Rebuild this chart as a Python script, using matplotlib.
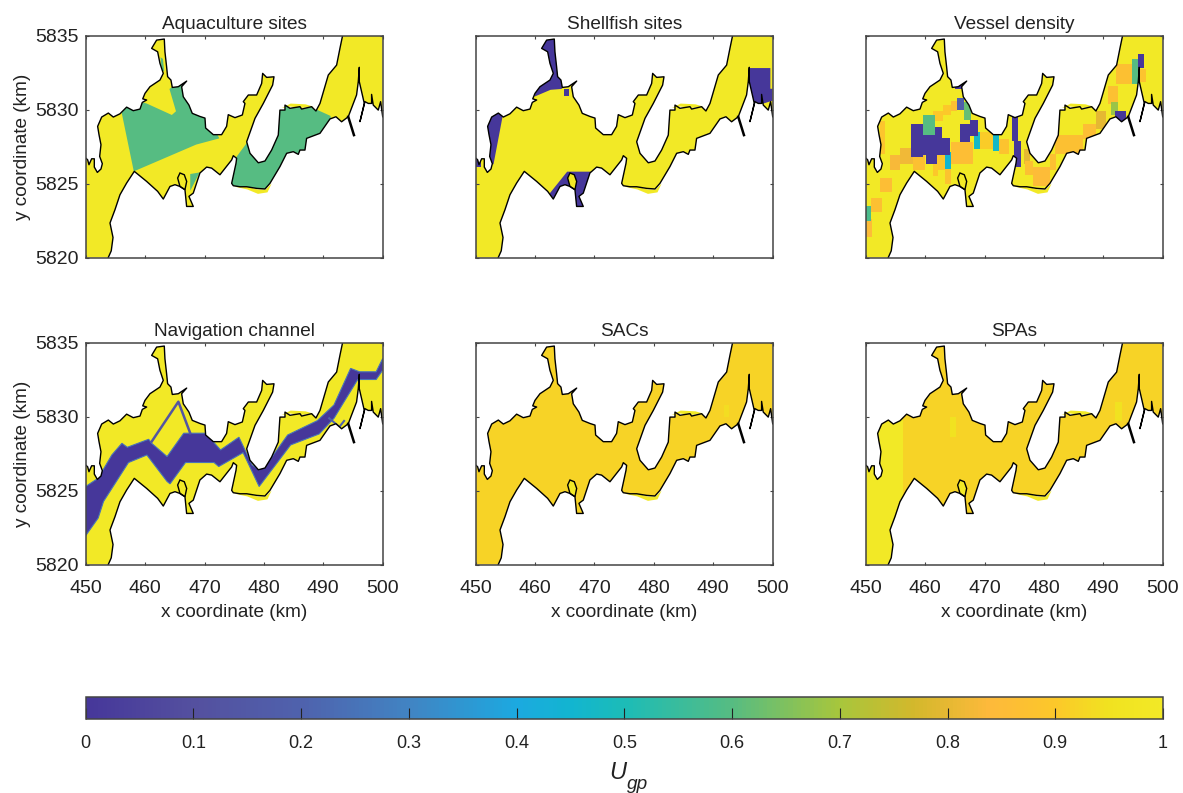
import numpy as np
import matplotlib
matplotlib.use('Agg')
import matplotlib.pyplot as plt
from matplotlib.colors import LinearSegmentedColormap
from matplotlib.patches import Polygon, Rectangle
from matplotlib.cm import ScalarMappable

plt.rcParams['font.family'] = ['Liberation Sans', 'DejaVu Sans']

titles = ['Aquaculture sites', 'Shellfish sites', 'Vessel density',
          'Navigation channel', 'SACs', 'SPAs']
cbar_ticks = [0, 0.1, 0.2, 0.3, 0.4, 0.5, 0.6, 0.7, 0.8, 0.9, 1]
cbar_labels = ['0', '0.1', '0.2', '0.3', '0.4', '0.5', '0.6', '0.7', '0.8', '0.9', '1']

# colour scale
cmap_u = [0, 0.1, 0.2, 0.3, 0.4, 0.45, 0.5, 0.6, 0.7, 0.77, 0.84, 0.9, 0.95, 1]
cmap_c = ['#46379a', '#54509f', '#4f62ad', '#4184c3', '#1ca9e0', '#12b5d0', '#1cbcb7',
          '#56bc82', '#a7c63c', '#d3b82c', '#fdb93b', '#fcc72a', '#f1e220', '#f2e926']

# coastline (km), left edge round to the top edge
north_x = [450.0, 450.33, 450.55, 451.0, 451.45, 451.45, 451.96, 452.57, 452.8, 452.35, 452.57, 452.24, 452.01,
           452.69, 453.81, 454.65, 455.77, 456.89, 458.01, 459.14, 459.53, 460.26, 459.6, 459.98, 460.82, 462.5,
           463.06, 462.5, 462.11, 461.1, 461.94, 463.23, 463.34, 463.62, 463.79, 464.35, 464.58, 465.59, 467.0,
           466.15, 466.43, 467.38, 467.94, 469.23, 470.08, 470.19, 471.48, 472.88, 473.72, 474.0, 475.13, 476.37,
           476.81, 476.53, 477.38, 478.78, 479.62, 479.79, 480.46, 481.7, 481.47, 479.9, 478.5, 477.1, 477.66,
           479.06, 480.18, 481.3, 482.42, 482.7, 483.55, 483.55, 484.39, 486.07, 486.35, 488.03, 488.76, 489.44,
           490.84, 492.24, 492.8, 493.25]
north_y = [5826.72, 5826.6, 5826.27, 5826.67, 5826.67, 5826.11, 5825.75, 5825.98, 5826.34, 5826.83, 5827.62,
           5828.3, 5828.86, 5829.49, 5829.76, 5829.49, 5829.71, 5830.16, 5829.92, 5830.03, 5830.48, 5830.64,
           5830.72, 5831.09, 5831.54, 5831.99, 5832.44, 5833.12, 5833.9, 5834.13, 5834.69, 5834.76, 5833.9,
           5832.89, 5832.22, 5831.99, 5831.49, 5831.54, 5831.92, 5831.54, 5830.86, 5830.3, 5829.74, 5829.53,
           5829.42, 5828.75, 5828.3, 5828.3, 5828.86, 5829.65, 5829.45, 5829.63, 5830.41, 5830.53, 5830.98,
           5830.98, 5831.76, 5832.44, 5832.17, 5832.21, 5831.65, 5830.41, 5829.4, 5827.82, 5827.04, 5826.4,
           5826.52, 5827.26, 5828.27, 5829.96, 5829.96, 5830.3, 5830.08, 5830.19, 5830.03, 5830.19, 5829.9,
           5830.41, 5832.33, 5833.0, 5834.13, 5835.0]
# right edge round to the bottom edge
south_x = [500.0, 499.65, 499.25, 498.41, 498.13, 498.13, 497.57, 497.01, 496.17, 496.9, 496.45, 496.06, 496.06,
           495.89, 495.6, 494.2, 493.08, 492.13, 491.12, 489.44, 487.19, 486.91, 486.07, 485.79, 484.95, 483.83,
           482.7, 481.02, 480.18, 478.78, 477.1, 475.97, 474.85, 474.57, 475.3, 475.41, 474.85, 474.57, 473.72,
           472.6, 471.2, 470.36, 469.23, 468.11, 467.38, 468.11, 466.99, 466.71, 465.87, 465.03, 464.19, 463.06,
           462.11, 460.26, 458.18, 456.89, 455.77, 454.93, 454.09, 454.6, 454.3, 453.8]
south_y = [5829.51, 5830.53, 5829.96, 5830.3, 5831.02, 5830.41, 5830.41, 5830.53, 5829.18, 5830.41, 5831.2,
           5831.88, 5832.85, 5831.88, 5830.98, 5829.51, 5829.17, 5829.51, 5829.36, 5828.39, 5828.05, 5827.26,
           5827.26, 5826.97, 5827.15, 5827.04, 5826.14, 5825.01, 5824.63, 5824.67, 5824.78, 5824.78, 5824.85,
           5825.01, 5826.36, 5826.7, 5826.88, 5826.59, 5826.16, 5825.59, 5826.04, 5826.11, 5825.71, 5824.35,
           5824.13, 5823.45, 5823.45, 5824.58, 5824.8, 5824.92, 5824.8, 5823.95, 5824.47, 5825.14, 5825.82,
           5825.03, 5824.24, 5823.23, 5822.33, 5821.35, 5820.45, 5820.0]
coast_x = north_x + [500.0] + south_x + [450.0]
coast_y = north_y + [5835.0] + south_y + [5820.0]

spur_x = [494.2, 495.16]
spur_y = [5829.51, 5828.27]
inlet_x = [466.71, 467.0, 466.6, 465.87, 465.48, 465.87]
inlet_y = [5824.58, 5825.14, 5825.59, 5825.71, 5825.37, 5824.8]

# grid cells spilling just past the coastline
fringe_a_x = [474.9, 477.2, 478.9, 480.3, 481.3, 480.6, 479.0, 477.2]
fringe_a_y = [5824.8, 5824.8, 5824.6, 5824.6, 5825.0, 5824.4, 5824.3, 5824.6]
fringe_b_x = [483.0, 484.5, 486.2, 488.3, 487.0, 484.5]
fringe_b_y = [5830.1, 5830.2, 5830.1, 5830.2, 5830.35, 5830.4]

# Aquaculture sites, u = 0.6
aqua_u = 0.6
aqua_west_x = [456.1, 456.1, 460.4, 464.5, 465.2, 464.1, 467.0, 472.5, 468.6, 458.1]
aqua_west_y = [5829.7, 5831.0, 5830.38, 5829.63, 5829.88, 5831.39, 5832.2, 5828.05, 5827.63, 5825.82]
aqua_east_x = [476.9, 474.9, 474.4, 482.3, 491.8, 491.2, 489.0, 488.5, 482.3]
aqua_east_y = [5827.62, 5826.54, 5824.3, 5824.3, 5828.35, 5829.57, 5829.97, 5830.7, 5830.7]
aqua_south_x = [467.6, 469.2, 467.6]
aqua_south_y = [5825.64, 5825.75, 5824.51]
aqua_north_x = [462.6, 463.0, 463.2, 462.8]
aqua_north_y = [5833.53, 5833.42, 5832.6, 5832.6]

# Shellfish sites, u = 0
shell_north_x = [459.9, 462.6, 464.5, 464.6, 464.0, 460.6, 460.6]
shell_north_y = [5830.87, 5831.33, 5831.39, 5831.84, 5834.9, 5834.9, 5832.0]
shell_west_x = [454.7, 453.0, 451.9, 451.6]
shell_west_y = [5829.9, 5826.3, 5826.3, 5829.9]
shell_left_x = [450.0, 450.9, 450.9, 450.0]
shell_left_y = [5826.1, 5826.1, 5826.8, 5826.8]
shell_south_x = [462.4, 465.4, 469.4, 468.5, 466.8, 463.1]
shell_south_y = [5824.3, 5825.8, 5825.8, 5823.4, 5823.4, 5824.0]
shell_east_x = [496.0, 499.6, 499.6, 500.0, 500.0, 499.2, 498.4, 496.9, 496.1]
shell_east_y = [5832.8, 5832.8, 5831.4, 5831.4, 5830.6, 5830.5, 5830.4, 5829.3, 5831.8]
shell_spot_x = [464.8, 465.7, 465.7, 464.8]
shell_spot_y = [5830.94, 5830.94, 5831.39, 5831.39]

# Vessel density grid blocks: x0, x1, y0, y1
vessel_x0 = [450.0, 450.0, 450.9, 452.4, 454.1, 455.8, 452.4, 458.0, 461.4, 463.0, 464.3, 464.4, 463.3, 462.0, 461.4,
             472.4, 476.6, 476.8, 478.2, 481.0, 481.8, 486.6, 488.8, 490.8, 492.2, 496.1, 469.3,
             459.7, 466.5, 491.3, 494.8,
             468.2, 463.3, 471.4,
             465.3,
             457.7, 459.7, 459.7, 461.6, 460.2, 465.0, 465.8, 467.5, 474.6, 475.0, 491.9, 495.8]
vessel_x1 = [451.0, 450.9, 452.8, 454.4, 455.8, 458.0, 453.2, 460.0, 463.0, 464.3, 465.3, 468.1, 464.4, 463.3, 462.2,
             474.2, 477.7, 478.2, 481.0, 482.0, 486.6, 488.8, 490.5, 492.4, 495.0, 497.2, 471.4,
             461.6, 467.8, 492.4, 495.8,
             469.3, 464.3, 472.4,
             466.6,
             459.7, 464.2, 462.8, 462.8, 462.0, 467.0, 467.5, 468.9, 475.7, 476.2, 493.8, 496.9]
vessel_y0 = [5821.4, 5822.5, 5823.05, 5824.4, 5825.9, 5826.3, 5827.0, 5825.9, 5829.2, 5829.6, 5829.9, 5826.3, 5825.0, 5825.9, 5825.5,
             5827.0, 5826.3, 5825.6, 5824.85, 5825.9, 5827.0, 5828.0, 5828.7, 5830.4, 5831.7, 5831.85, 5827.3,
             5828.3, 5829.3, 5829.6, 5831.7,
             5827.3, 5826.0, 5827.2,
             5830.0,
             5826.8, 5826.9, 5828.1, 5828.3, 5826.3, 5831.4, 5827.8, 5828.2, 5827.9, 5826.1, 5829.1, 5832.8]
vessel_y1 = [5822.6, 5823.5, 5824.05, 5825.4, 5826.9, 5827.4, 5829.25, 5827.0, 5829.9, 5830.3, 5830.6, 5827.8, 5826.0, 5826.9, 5826.3,
             5828.0, 5827.3, 5826.5, 5826.1, 5827.0, 5828.25, 5829.05, 5829.9, 5831.6, 5833.1, 5832.75, 5828.5,
             5829.6, 5830.5, 5830.5, 5833.4,
             5828.45, 5827.1, 5828.35,
             5830.8,
             5829.0, 5828.1, 5828.3, 5828.8, 5826.9, 5831.9, 5829.0, 5829.3, 5829.5, 5827.9, 5829.9, 5833.75]
vessel_u = [0.85, 0.58, 0.87, 0.86, 0.83, 0.82, 0.89, 0.87, 0.9, 0.9, 0.87, 0.86, 0.88, 0.89, 0.9,
            0.88, 0.8, 0.87, 0.85, 0.87, 0.87, 0.86, 0.8, 0.87, 0.87, 0.88, 0.91,
            0.6, 0.62, 0.68, 0.6,
            0.47, 0.45, 0.47,
            0.18,
            0, 0, 0, 0, 0, 0, 0, 0, 0, 0, 0, 0]

# Navigation channel, u = 0
chan_top_x = [450.0, 452.1, 454.4, 456.1, 457.0, 460.6, 461.1, 463.7, 466.5, 470.2, 472.7, 475.8, 478.0, 479.2,
              480.6, 484.0, 489.0, 491.8, 494.6, 496.1, 498.9, 500.0]
chan_top_y = [5825.27, 5825.83, 5827.4, 5828.19, 5827.92, 5828.46, 5828.19, 5827.29, 5828.87, 5828.87, 5827.74,
              5828.6, 5826.73, 5826.39, 5826.84, 5828.75, 5829.72, 5830.78, 5833.25, 5833.02, 5833.02, 5833.92]
chan_bot_x = [500.0, 498.9, 495.8, 493.5, 491.8, 489.3, 484.5, 479.2, 476.5, 472.4, 471.6, 466.8, 464.2, 463.7,
              460.3, 457.2, 453.0, 452.1, 450.0]
chan_bot_y = [5833.13, 5832.5, 5832.5, 5831.0, 5829.88, 5828.82, 5828.08, 5825.27, 5827.56, 5826.62, 5826.89,
              5826.89, 5825.45, 5825.61, 5827.4, 5826.89, 5824.26, 5823.14, 5821.95]
branch_x = [461.1, 465.6, 467.6]
branch_y = [5828.3, 5831.0, 5828.87]
branch2_x = [491.0, 492.7, 493.5]
branch2_y = [5829.88, 5829.3, 5829.7]

# SACs and SPAs
sac_base = 0.92
sac_patch_x0, sac_patch_x1, sac_patch_y0, sac_patch_y1 = 491.8, 492.6, 5830.0, 5830.8
spa_west_edge = 456.2
spa_patch_x0 = [464.2, 492.0]
spa_patch_x1 = [465.2, 493.2]
spa_patch_y0 = [5828.6, 5829.7]
spa_patch_y1 = [5830.0, 5831.0]

cm = LinearSegmentedColormap.from_list('u_gp', list(zip(cmap_u, cmap_c)), N=256)


def poly(ax, xs, ys, u, clip):
    p = Polygon(np.column_stack([xs, ys]), closed=True, facecolor=cm(u), edgecolor='none', zorder=2)
    ax.add_patch(p)
    p.set_clip_path(clip)
    return p


def rect(ax, x0, x1, y0, y1, u, clip):
    r = Rectangle((x0, y0), x1 - x0, y1 - y0, facecolor=cm(u), edgecolor='none', zorder=2)
    ax.add_patch(r)
    r.set_clip_path(clip)


fig = plt.figure(figsize=(11.83, 7.93), dpi=100)
W, H = 1183.0, 793.0
lefts = [85.7, 475.7, 865.7]
tops = [35.5, 342.5]
pw, ph = 297.0, 222.0
edge = '#444444'

axes = []
for r in range(2):
    for c in range(3):
        ax = fig.add_axes([lefts[c] / W, 1 - (tops[r] + ph) / H, pw / W, ph / H])
        axes.append(ax)

for i, ax in enumerate(axes):
    base = 1.0
    if i == 4 or i == 5:
        base = sac_base
    ax.add_patch(Polygon(np.column_stack([fringe_a_x, fringe_a_y]), facecolor=cm(1.0), edgecolor='none', zorder=1))
    ax.add_patch(Polygon(np.column_stack([fringe_b_x, fringe_b_y]), facecolor=cm(1.0), edgecolor='none', zorder=1))
    land = Polygon(np.column_stack([coast_x, coast_y]), closed=True, facecolor=cm(base), edgecolor='none', zorder=1.5)
    ax.add_patch(land)

    if i == 0:
        poly(ax, aqua_west_x, aqua_west_y, aqua_u, land)
        poly(ax, aqua_east_x, aqua_east_y, aqua_u, land)
        poly(ax, aqua_south_x, aqua_south_y, aqua_u, land)
        poly(ax, aqua_north_x, aqua_north_y, aqua_u, land)
    elif i == 1:
        poly(ax, shell_north_x, shell_north_y, 0, land)
        poly(ax, shell_west_x, shell_west_y, 0, land)
        poly(ax, shell_left_x, shell_left_y, 0, land)
        poly(ax, shell_south_x, shell_south_y, 0, land)
        poly(ax, shell_east_x, shell_east_y, 0, land)
        poly(ax, shell_spot_x, shell_spot_y, 0, land)
    elif i == 2:
        for k in range(len(vessel_u)):
            rect(ax, vessel_x0[k], vessel_x1[k], vessel_y0[k], vessel_y1[k], vessel_u[k], land)
    elif i == 3:
        p = poly(ax, chan_top_x + chan_bot_x, chan_top_y + chan_bot_y, 0, land)
        p.set_edgecolor(cm(0.25))
        p.set_linewidth(0.8)
        l1, = ax.plot(branch_x, branch_y, color=cm(0.13), lw=1.8, zorder=2)
        l1.set_clip_path(land)
        l2, = ax.plot(branch2_x, branch2_y, color=cm(0.2), lw=1.5, zorder=2)
        l2.set_clip_path(land)
    elif i == 4:
        rect(ax, sac_patch_x0, sac_patch_x1, sac_patch_y0, sac_patch_y1, 0.94, land)
    elif i == 5:
        rect(ax, 450, spa_west_edge, 5820, 5835, 1.0, land)
        for k in range(len(spa_patch_x0)):
            rect(ax, spa_patch_x0[k], spa_patch_x1[k], spa_patch_y0[k], spa_patch_y1[k], 0.95, land)

    # small inlet stays pale in every panel
    ax.add_patch(Polygon(np.column_stack([inlet_x, inlet_y]), facecolor=cm(1.0), edgecolor='k', lw=1.0, zorder=3))

    # coastline on top
    ax.plot(north_x, north_y, color='k', lw=1.0, zorder=4)
    ax.plot(south_x, south_y, color='k', lw=1.0, zorder=4)
    ax.plot(spur_x, spur_y, color='k', lw=1.8, zorder=4)

    ax.set_xlim(450, 500)
    ax.set_ylim(5820, 5835)
    ax.set_xticks([450, 460, 470, 480, 490, 500])
    ax.set_yticks([5820, 5825, 5830, 5835])
    ax.ticklabel_format(useOffset=False, style='plain')
    ax.tick_params(direction='in', top=True, right=True, length=2.5, width=0.8, labelsize=14, color=edge)
    ax.tick_params(axis='x', pad=11, labelcolor='#222222')
    ax.tick_params(axis='y', pad=5, labelcolor='#222222')
    if i < 3:
        ax.tick_params(labelbottom=False)
    else:
        ax.set_xlabel('x coordinate (km)', fontsize=13.7, labelpad=5.5, color='#222222')
    if i % 3 != 0:
        ax.tick_params(labelleft=False)
    else:
        ax.set_ylabel('y coordinate (km)', fontsize=13.7, labelpad=3, color='#222222')
    for s in ax.spines.values():
        s.set_linewidth(1.1)
        s.set_color(edge)
        s.set_zorder(5)
    ax.set_title(titles[i], fontsize=13.7, pad=5, color='#222222')

cax = fig.add_axes([85.7 / W, 1 - 719.3 / H, 1077.3 / W, 22.0 / H])
sm = ScalarMappable(norm=plt.Normalize(0, 1), cmap=cm)
cb = fig.colorbar(sm, cax=cax, orientation='horizontal')
cb.set_ticks(cbar_ticks)
cb.set_ticklabels(cbar_labels)
cb.ax.tick_params(direction='in', length=8, width=0.8, labelsize=13, color='#222222', labelcolor='#222222', pad=11)
cb.outline.set_linewidth(1.1)
cb.outline.set_edgecolor(edge)

fig.text(609 / W, 1 - 779 / H, 'U', fontsize=17, style='italic', color='#222222', ha='left', va='baseline')
fig.text(627 / W, 1 - 789 / H, 'gp', fontsize=13.7, style='italic', color='#222222', ha='left', va='baseline')

fig.savefig('out.png', dpi=100)
